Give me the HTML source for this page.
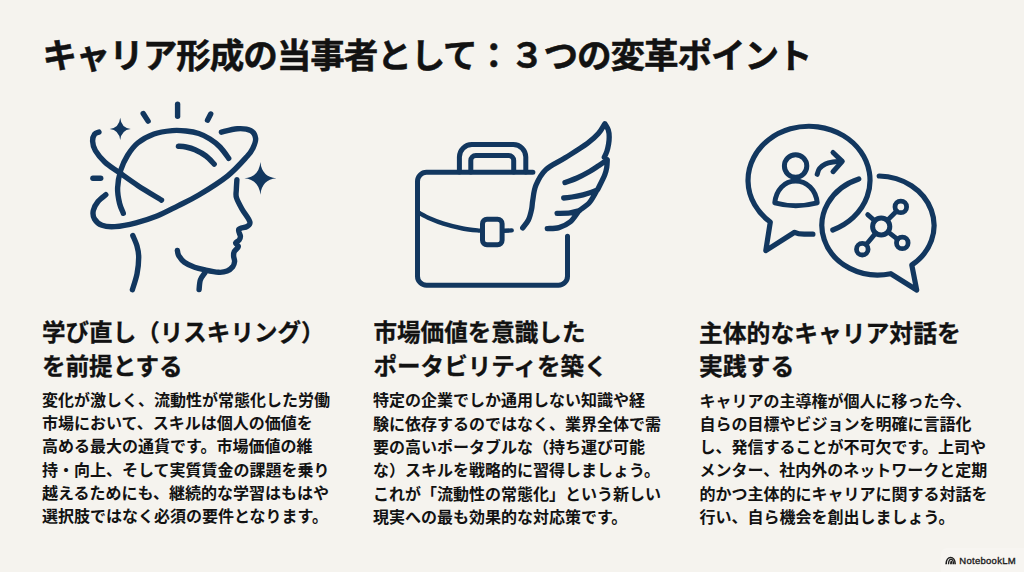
<!DOCTYPE html>
<html lang="ja">
<head>
<meta charset="utf-8">
<title>キャリア形成の当事者として：３つの変革ポイント</title>
<style>
html,body{margin:0;padding:0;}
body{width:1024px;height:572px;overflow:hidden;background:#f5f3ee;position:relative;
 font-family:"Liberation Sans","Noto Sans CJK JP",sans-serif;color:#121212;}
.title{position:absolute;left:42.4px;top:31.7px;font-size:34.6px;font-weight:700;line-height:48px;white-space:nowrap;margin:0;letter-spacing:-1.1px;-webkit-text-stroke:0.5px #121212;}
.col{position:absolute;top:0;}
.col h2{position:absolute;margin:0;font-size:23.55px;font-weight:700;line-height:33.5px;white-space:nowrap;top:317px;left:0;letter-spacing:0;-webkit-text-stroke:0.3px #121212;}
.col p{position:absolute;margin:0;font-size:16px;font-weight:700;line-height:23.3px;white-space:nowrap;top:388.6px;left:0;}
#c1{left:42px;}
#c2{left:373.5px;}
#c3{left:699px;}
#c3 h2{font-size:23.8px;top:316.6px;}
#c1 p{top:388.9px;}
#c2 p{top:389.4px;left:-0.6px;}
#c3 p{top:389.5px;left:0.5px;}
svg.icons{position:absolute;left:0;top:0;}
.nbbox{position:absolute;left:941px;top:548px;width:83px;height:24px;border-radius:6px 0 0 0;background:rgba(255,255,255,0.22);}
.nb{position:absolute;left:959.3px;top:555.2px;font-size:9.5px;line-height:12px;font-weight:400;color:#1c1c1c;-webkit-text-stroke:0.35px #1c1c1c;white-space:nowrap;letter-spacing:0.28px;}
</style>
</head>
<body>
<h1 class="title">キャリア形成の当事者として：３つの変革ポイント</h1>

<svg class="icons" width="1024" height="572" viewBox="0 0 1024 572">
<g id="icon-head" fill="none" stroke="#12375f" stroke-linecap="round" stroke-linejoin="round">
<path d="M177.6 104.2 L177.6 116.2" stroke-width="5.4"/>
<path d="M143.2 113.5 L148.1 121.1" stroke-width="5.4"/>
<path d="M210.7 114.0 L207.5 120.2" stroke-width="5.4"/>
<path d="M92.9 178.3 L100.7 178.3" stroke-width="5.4"/>
<path d="M123.3 213.2 C122.7 211.6 120.6 207.7 119.6 203.5 C118.6 199.3 117.4 193.6 117.6 188.0 C117.8 182.4 119.1 175.4 120.8 170.0 C122.5 164.6 124.7 160.0 127.5 155.5 C130.3 151.0 133.3 146.6 137.7 143.0 C142.1 139.4 148.2 136.1 154.0 134.0 C159.8 131.9 167.0 131.1 172.3 130.6 C177.6 130.1 181.6 130.5 186.0 131.0 C190.4 131.5 194.8 132.2 198.8 133.5 C202.8 134.8 206.5 136.8 210.0 139.0 C213.5 141.2 216.9 143.8 220.0 147.0 C223.1 150.2 227.3 156.4 228.7 158.3" stroke-width="5.4"/>
<path d="M178.4 146.2 C179.7 146.3 183.2 146.4 186.0 147.0 C188.8 147.6 191.7 148.3 195.0 149.8 C198.3 151.3 202.8 153.6 206.0 156.0 C209.2 158.4 212.8 162.8 214.2 164.2" stroke-width="5.4"/>
<path d="M98.9 132.1 C98.2 132.5 95.7 132.7 94.6 134.2 C93.5 135.7 92.5 138.5 92.6 141.2 C92.7 143.9 93.3 147.1 95.4 150.6 C97.5 154.1 101.2 158.7 105.0 162.3 C108.8 165.9 113.0 168.2 118.5 172.0 C124.0 175.8 130.5 180.7 137.7 185.4 C144.9 190.1 157.5 197.6 161.5 200.1" stroke-width="5.4"/>
<path d="M221.4 132.2 C224.0 131.6 232.4 129.0 237.3 128.7 C242.2 128.4 247.8 129.0 250.8 130.6 C253.9 132.2 255.2 135.4 255.6 138.3 C256.0 141.2 254.4 145.0 253.0 148.0 C251.6 151.0 251.2 151.9 247.0 156.5 C242.8 161.1 235.7 169.4 227.7 175.8 C219.7 182.2 207.1 190.0 198.8 195.0 C190.5 200.0 185.0 202.3 178.0 205.8 C171.0 209.3 164.0 213.2 157.0 216.0 C150.0 218.8 143.0 221.0 136.0 222.8 C129.0 224.6 120.7 226.2 115.0 226.6 C109.3 227.0 105.4 226.6 102.0 225.3 C98.6 224.0 96.0 221.5 94.5 219.0 C93.0 216.5 92.7 213.4 93.3 210.5 C93.9 207.6 95.9 204.1 98.0 201.5 C100.1 198.9 104.5 195.8 105.8 194.7" stroke-width="5.4"/>
<path d="M236.9 179.6 C236.8 181.3 236.4 187.0 236.3 190.0 C236.2 193.0 235.5 194.5 236.5 197.7 C237.5 200.9 239.9 205.2 242.1 209.2 C244.3 213.2 249.0 218.8 249.8 221.7 C250.6 224.6 248.8 225.2 247.0 226.5 C245.2 227.8 239.9 227.8 238.8 229.4 C237.7 231.0 240.3 234.4 240.4 236.2 C240.5 238.0 240.0 238.9 239.2 240.0 C238.4 241.1 235.8 241.8 235.6 242.9 C235.4 244.0 238.5 245.3 238.3 246.7 C238.1 248.1 235.1 249.9 234.3 251.5 C233.5 253.1 233.6 254.3 233.6 256.0 C233.6 257.7 234.8 259.7 234.6 261.5 C234.4 263.3 233.9 265.2 232.7 266.8 C231.4 268.4 229.4 270.2 227.1 271.1 C224.8 272.0 222.2 272.5 218.7 272.3 C215.1 272.1 209.8 271.0 205.8 270.1 C201.8 269.2 198.2 268.5 194.6 267.2 C191.0 265.9 187.0 264.1 184.4 262.2 C181.8 260.3 180.0 257.6 178.8 255.7 C177.6 253.8 177.6 251.4 177.4 250.5" stroke-width="5.4"/>
<path d="M205.0 272.6 C204.3 273.8 201.4 277.0 200.4 279.8 C199.4 282.6 199.3 288.0 199.1 289.6" stroke-width="5.4"/>
<path d="M132.8 235.5 C133.5 237.3 136.0 242.4 137.0 246.0 C138.0 249.6 138.7 252.6 138.7 257.3 C138.7 262.0 138.1 268.6 137.0 274.0 C135.9 279.4 133.2 287.0 132.4 289.7" stroke-width="5.4"/>
<path d="M120.2 117.7 Q121.2 127.8 130.7 128.9 Q121.2 130.0 120.2 140.1 Q119.2 130.0 109.7 128.9 Q119.2 127.8 120.2 117.7Z" fill="#12375f" stroke="none"/>
<path d="M260.4 161.9 Q261.8 176.8 276.4 178.3 Q261.8 179.8 260.4 194.7 Q259.0 179.8 244.4 178.3 Q259.0 176.8 260.4 161.9Z" fill="#12375f" stroke="none"/>
</g>
<g id="icon-case" fill="none" stroke="#12375f" stroke-linecap="round" stroke-linejoin="round">
<path d="M567.5 236.2 V276.2 A9 9 0 0 1 558.5 285.2 H426.5 A9 9 0 0 1 417.5 276.2 V181.3 A9 9 0 0 1 426.5 172.3 H532.9" stroke-width="5"/>
<path d="M459.4 172 V157.1 A12.5 12.5 0 0 1 471.9 144.6 H513.3 A12.5 12.5 0 0 1 525.8 157.1 V172" stroke-width="5"/>
<path d="M470.8 172 V160.6 A5 5 0 0 1 475.8 155.6 H508.7 A5 5 0 0 1 513.7 160.6 V172" stroke-width="5"/>
<path d="M418.7 212.7 C420.6 213.7 425.9 216.7 430.0 218.5 C434.1 220.3 438.1 222.0 443.5 223.7 C448.9 225.4 456.7 227.3 462.7 228.5 C468.7 229.7 476.8 230.3 479.6 230.6" stroke-width="4.4"/>
<path d="M504 230.8 L511.7 230.4" stroke-width="4.4"/>
<rect x="482.5" y="219.2" width="19.6" height="25.6" rx="4.5" stroke-width="5"/>
<path d="M522.7 227.9 C523.7 226.6 526.9 223.1 528.4 220.0 C529.9 216.9 530.9 212.5 531.6 209.2 C532.3 205.9 532.1 204.0 532.8 200.0 C533.5 196.0 533.8 190.1 536.0 185.0 C538.2 179.9 541.0 174.2 545.9 169.6 C550.8 165.0 558.7 162.0 565.6 157.6 C572.5 153.2 581.9 147.4 587.4 143.4 C592.9 139.4 595.5 136.9 598.4 133.6 C601.3 130.3 603.8 125.3 604.9 123.7 C605.5 124.8 607.6 127.8 608.3 130.0 C609.0 132.2 609.2 134.7 609.2 137.0 C609.2 139.3 609.0 141.7 608.6 144.0 C608.2 146.3 607.7 148.8 607.0 151.0 C606.3 153.2 604.8 156.2 604.3 157.2" stroke-width="5.3"/>
<path d="M565.0 182.5 C567.0 181.8 572.9 179.8 577.0 178.0 C581.1 176.2 585.9 173.6 589.6 171.5 C593.3 169.4 596.0 167.4 599.0 165.5 C602.0 163.6 605.9 160.8 607.3 159.8 C607.2 161.0 607.2 164.5 606.8 167.0 C606.4 169.5 606.2 171.3 604.7 175.0 C603.2 178.7 599.0 186.8 597.9 189.1" stroke-width="5.3"/>
<path d="M563.7 198.0 C565.1 197.9 568.8 197.5 572.0 197.0 C575.2 196.5 580.0 195.5 583.0 194.8 C586.0 194.1 587.7 193.6 590.0 192.8 C592.3 192.0 595.8 190.6 597.0 190.2 C595.8 192.2 592.4 199.1 589.6 202.4 C586.8 205.7 581.6 208.8 580.0 210.1" stroke-width="5.3"/>
<path d="M557.1 213.4 C559.2 213.3 566.4 213.3 570.0 212.9 C573.6 212.5 577.4 211.2 578.9 210.8 C577.4 212.7 573.3 219.3 570.0 222.1 C566.7 224.9 562.8 226.5 559.0 227.6 C555.2 228.7 549.2 228.4 547.3 228.6" stroke-width="5.3"/>
</g>
<g id="icon-chat" fill="none" stroke="#12375f" stroke-linecap="round" stroke-linejoin="round">
<path d="M812.9 234.2 L804.2 234.2 Q798 234 794.6 232.3 L765.8 250.6 L770.3 222.0 A61 54 0 1 1 832.8 230.0" stroke-width="5.2"/>
<path d="M858.8 179.0 A56 49.5 0 0 0 890.8 273.7 L916.7 290 L911.8 265.0 A56 49.5 0 0 0 879.2 176.0" stroke-width="5.2"/>
<circle cx="795.6" cy="166" r="11.2" stroke-width="5"/>
<path d="M774.8 202.8 C776 190 784.5 181 795.6 181 C806.7 181 816 190 817.2 202.8 Q795.6 208.5 774.8 202.8Z" stroke-width="5"/>
<path d="M817.2 174.3 C817.6 173.3 818.1 170.2 819.5 168.5 C820.9 166.8 823.1 165.1 825.4 164.0 C827.6 162.9 830.5 162.4 833.0 162.0 C835.5 161.6 839.1 161.6 840.3 161.5" stroke-width="5"/>
<path d="M833 152.5 L842.3 161.4 L833 171.7" stroke-width="5"/>
<circle cx="881.2" cy="226.5" r="8.6" stroke-width="5"/>
<circle cx="900.8" cy="206.9" r="5.8" stroke-width="4.8"/>
<path d="M887.3 220.4 L896.7 211.0" stroke-width="4.8"/>
<circle cx="902.3" cy="242.9" r="5.8" stroke-width="4.8"/>
<path d="M888.0 231.8 L897.7 239.3" stroke-width="4.8"/>
<circle cx="862.3" cy="249.2" r="5.8" stroke-width="4.8"/>
<path d="M875.7 233.1 L866.0 244.7" stroke-width="4.8"/>
<path d="M867.7 214.6 L874.7 220.8" stroke-width="4.8"/>
</g>
</svg>

<div class="col" id="c1">
<h2>学び直し（リスキリング）<br>を前提とする</h2>
<p>変化が激しく、流動性が常態化した労働<br>市場において、スキルは個人の価値を<br>高める最大の通貨です。市場価値の維<br>持・向上、そして実質賃金の課題を乗り<br>越えるためにも、継続的な学習はもはや<br>選択肢ではなく必須の要件となります。</p>
</div>

<div class="col" id="c2">
<h2>市場価値を意識した<br>ポータビリティを築く</h2>
<p>特定の企業でしか通用しない知識や経<br>験に依存するのではなく、業界全体で需<br>要の高いポータブルな（持ち運び可能<br>な）スキルを戦略的に習得しましょう。<br>これが「流動性の常態化」という新しい<br>現実への最も効果的な対応策です。</p>
</div>

<div class="col" id="c3">
<h2>主体的なキャリア対話を<br>実践する</h2>
<p>キャリアの主導権が個人に移った今、<br>自らの目標やビジョンを明確に言語化<br>し、発信することが不可欠です。上司や<br>メンター、社内外のネットワークと定期<br>的かつ主体的にキャリアに関する対話を<br>行い、自ら機会を創出しましょう。</p>
</div>

<div class="nbbox"></div>
<svg class="icons" width="1024" height="572" viewBox="0 0 1024 572" style="pointer-events:none">
<g fill="none" stroke="#1e1e1e" stroke-width="1.35" stroke-linecap="butt">
<path d="M946.1 564.2 C946.1 555.2 955.2 555.2 955.2 564.2" stroke-width="1.6"/>
<path d="M948.5 564.2 C948.7 557.6 953.5 557.8 953.5 564.2"/>
<path d="M950.6 564.2 C950.8 560.2 951.9 560.4 951.9 564.2" stroke-width="1.1"/>
</g>
</svg>
<div class="nb">NotebookLM</div>
</body>
</html>
